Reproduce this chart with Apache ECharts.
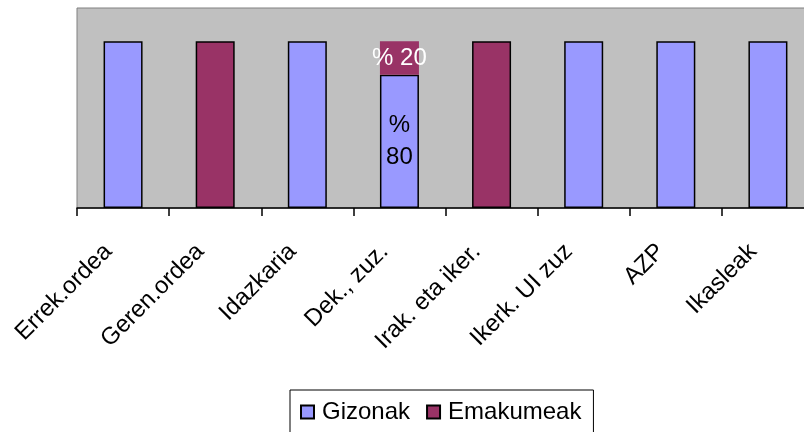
<!DOCTYPE html>
<html>
<head>
<meta charset="utf-8">
<script src="https://cdn.jsdelivr.net/npm/echarts@6/dist/echarts.min.js"></script>
<style>
  html, body { margin: 0; padding: 0; background: #fff; }
  #chart { width: 804px; height: 432px; }
</style>
</head>
<body>
<div id="chart"></div>
<script>
  // kategoriak eta ehunekoak
  const categories = ['Errek.ordea', 'Geren.ordea', 'Idazkaria', 'Dek., zuz.', 'Irak. eta iker.', 'Ikerk. UI zuz', 'AZP', 'Ikasleak'];
  const gizonak = [100, 0, 100, 80, 0, 100, 100, 100];
  const emakumeak = [0, 100, 0, 20, 100, 0, 0, 0];

  const chart = echarts.init(document.getElementById('chart'));

  const toData = (arr, partialStyle) => arr.map(v => {
    if (v === 0) return '-';
    if (v < 100 && partialStyle) return { value: v, itemStyle: partialStyle };
    return v;
  });

  const option = {
    animation: false,
    textStyle: { fontFamily: 'Liberation Sans, Arial, sans-serif' },
    grid: {
      left: 77, top: 8, width: 737, height: 200,
      outerBoundsMode: 'none',
      containLabel: false,
      show: true, backgroundColor: '#C0C0C0', borderColor: '#808080', borderWidth: 1
    },
    legend: {
      top: 390,
      left: 290,
      itemWidth: 13,
      itemHeight: 13,
      itemGap: 16,
      icon: 'rect',
      borderColor: '#000',
      borderWidth: 1,
      padding: [10, 12, 30, 10],
      textStyle: { fontSize: 24, color: '#000', padding: [0, 0, 0, 3] },
      data: ['Gizonak', 'Emakumeak']
    },
    xAxis: {
      type: 'category',
      data: categories,
      axisLine: { lineStyle: { color: '#000', width: 1.5 } },
      axisTick: { show: true, length: 8, lineStyle: { color: '#000', width: 1.5 } },
      axisLabel: {
        rotate: 45, fontSize: 24, color: '#000', margin: 25, interval: 0,
        padding: [0, 21, 0, 0]
      }
    },
    yAxis: {
      type: 'value',
      min: 0, max: 120,
      axisLine: { show: false },
      axisTick: { show: false },
      axisLabel: { show: false },
      splitLine: { show: false }
    },
    series: [
      {
        name: 'Gizonak',
        type: 'bar',
        stack: 'guztira',
        barWidth: 39,
        data: toData(gizonak),
        itemStyle: { color: '#9999FF', borderColor: '#000', borderWidth: 1.5 },
        label: {
          show: true,
          position: 'inside',
          fontSize: 24,
          color: '#000',
          lineHeight: 32,
          formatter: p => (p.value < 100 ? '%\n' + p.value : '')
        }
      },
      {
        name: 'Emakumeak',
        type: 'bar',
        stack: 'guztira',
        barWidth: 39,
        data: toData(emakumeak, { borderWidth: 0 }),
        itemStyle: { color: '#993366', borderColor: '#000', borderWidth: 1.5 },
        label: {
          show: true,
          position: 'inside',
          fontSize: 24,
          color: '#fff',
          formatter: p => (p.value < 100 ? '% ' + p.value : '')
        }
      }
    ]
  };

  chart.setOption(option);
</script>
</body>
</html>
